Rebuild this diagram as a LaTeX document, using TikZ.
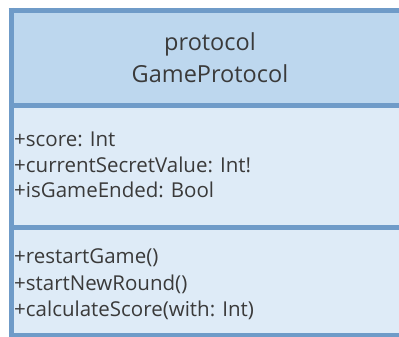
\documentclass[tikz,border=0pt]{standalone}
\usepackage{fontspec}
\setmainfont{Open Sans}
\definecolor{bordc}{HTML}{6F9BC8}
\definecolor{headc}{HTML}{BDD7EE}
\definecolor{bodyc}{HTML}{DEEBF7}
\definecolor{txtc}{HTML}{3A3A3A}
\tikzset{
  member/.style={anchor=west, inner sep=0pt, text=txtc, font=\fontsize{20.5}{24}\selectfont},
  title/.style={anchor=center, inner sep=0pt, text=txtc, font=\fontsize{23.5}{28}\selectfont},
  bord/.style={draw=bordc, line width=5pt}
}
\begin{document}
\begin{tikzpicture}[x=1pt, y=-1pt]
\useasboundingbox (0,0) rectangle (399,337);
\clip (0,0) rectangle (399,337);
\fill[white] (0,0) rectangle (399,337);
\fill[headc] (11,10.5) rectangle (405,105);
\fill[bodyc] (11,105) rectangle (405,336);
\draw[bord] (11,105) -- (405,105);
\draw[bord] (11,227.5) -- (405,227.5);
\draw[bord] (11,335.5) -- (405,335.5);
\draw[bord] (8.5,10.5) -- (405,10.5);
\draw[bord] (11,8) -- (11,340);
\node[title] (t1) at (210,44) {protocol};
\node[title] (t2) at (210,74) {GameProtocol};
\node[member] (a1) at (14,139) {+score: Int};
\node[member] (a2) at (14,164.5) {+currentSecretValue: Int!};
\node[member] (a3) at (14,190) {+isGameEnded: Bool};
\node[member] (m1) at (14,258) {+restartGame()};
\node[member] (m2) at (14,284) {+startNewRound()};
\node[member] (m3) at (14,310) {+calculateScore(with: Int)};
\end{tikzpicture}
\end{document}
